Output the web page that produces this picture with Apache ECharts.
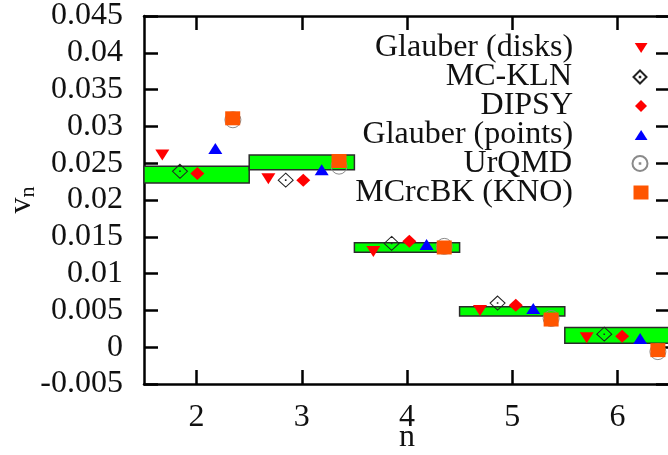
<!DOCTYPE html>
<html>
<head>
<meta charset="utf-8">
<script src="https://cdn.jsdelivr.net/npm/echarts@6/dist/echarts.min.js"></script>
<style>
html,body{margin:0;padding:0;background:#fff;}
#c{width:668px;height:455px;}
</style>
</head>
<body>
<div id="c"></div>
<script>
// ---- data ----
const nValues = [2, 3, 4, 5, 6];
const xTicks = [2, 3, 4, 5, 6];
const yTicks = [-0.005, 0, 0.005, 0.01, 0.015, 0.02, 0.025, 0.03, 0.035, 0.04, 0.045];
const boxLow  = [0.0223, 0.0241, 0.0129, 0.00425, 0.00054];
const boxHigh = [0.0246, 0.0261, 0.0142, 0.00548, 0.00268];

const seriesNames = ['Glauber (disks)', 'MC-KLN', 'DIPSY', 'Glauber (points)', 'UrQMD', 'MCrcBK (KNO)'];

const disksX  = [1.674, 2.682, 3.680, 4.694, 5.708];
const disksY  = [0.0261, 0.0229, 0.0130, 0.0050, 0.0013];
const klnX    = [1.842, 2.847, 3.854, 4.861, 5.875];
const klnY    = [0.0239, 0.0227, 0.0141, 0.0060, 0.00177];
const dipsyX  = [2.007, 3.014, 4.022, 5.034, 6.045];
const dipsyY  = [0.0236, 0.0227, 0.0144, 0.0057, 0.0015];
const pointsX = [2.178, 3.189, 4.186, 5.200, 6.216];
const pointsY = [0.0270, 0.0241, 0.01395, 0.00526, 0.00118];
const urqmdX  = [2.345, 3.354, 4.354, 5.370, 6.385];
const urqmdY  = [0.0309, 0.0246, 0.0137, 0.0039, -0.0006];
const kboX    = [2.343, 3.354, 4.354, 5.370, 6.385];
const kboY    = [0.0311, 0.0253, 0.01355, 0.00376, -0.0004];

// ---- build ----
const FONT = 'Liberation Serif';
const zip = (xs, ys) => xs.map((x, i) => [x, ys[i]]);

const SYM = {
  down:  'path://M0,0L14,0L7,11Z',
  up:    'path://M7,0L14,11L0,11Z',
  diam:  'path://M0,-10L10,0L0,10L-10,0Z',
  odiam: 'path://M0,-10L10,0L0,10L-10,0ZM-0.4,-0.4L0.4,-0.4L0.4,0.4L-0.4,0.4Z',
  ocirc: 'path://M-10,0A10,10,0,1,0,10,0A10,10,0,1,0,-10,0ZM-0.4,-0.4L0.4,-0.4L0.4,0.4L-0.4,0.4Z',
  sq:    'rect'
};

const styles = [
  {sym: SYM.down,  size: [14, 11], item: {color: '#ff0000'}, lw: 13, lh: 10},
  {sym: SYM.odiam, size: [15, 14], item: {color: 'rgba(0,0,0,0)', borderColor: '#222', borderWidth: 1}, lw: 13, lh: 13},
  {sym: SYM.diam,  size: [14, 13], item: {color: '#ff0000'}, lw: 12, lh: 12},
  {sym: SYM.up,    size: [14, 11], item: {color: '#0000ff'}, lw: 13, lh: 10},
  {sym: SYM.ocirc, size: [16, 16], item: {color: 'rgba(0,0,0,0)', borderColor: '#8a8a8a', borderWidth: 1}, lw: 15, lh: 15},
  {sym: SYM.sq,    size: [15, 14], item: {color: '#ff5500'}, lw: 15, lh: 14}
];
const seriesData = [
  zip(disksX, disksY), zip(klnX, klnY), zip(dipsyX, dipsyY),
  zip(pointsX, pointsY), zip(urqmdX, urqmdY), zip(kboX, kboY)
];

const legendCenters = [48, 77, 106, 135, 163.5, 192.5];
const iconCx = 641, textRight = 573;

const legends = seriesNames.map((name, i) => {
  const s = styles[i];
  return {
    data: [name],
    orient: 'vertical',
    align: 'right',
    right: 668 - iconCx - s.lw / 2,
    top: legendCenters[i] - 16,
    padding: 0,
    itemWidth: s.lw,
    itemHeight: s.lh,
    selectedMode: false,
    formatter: n => '{t|' + n + '}',
    textStyle: {
      fontFamily: FONT,
      rich: {
        t: {
          fontFamily: FONT, fontSize: 32, color: '#111', lineHeight: 32,
          padding: [0, (iconCx - s.lw / 2) - textRight - 5, 0, 0]
        }
      }
    }
  };
});

const boxData = nValues.map((n, i) => [n, boxLow[i], boxHigh[i]]);

const series = [{
  type: 'custom',
  name: 'band',
  xAxisIndex: 0, yAxisIndex: 0,
  z: 1,
  data: boxData,
  encode: {x: 0, y: [1, 2]},
  renderItem: function (params, api) {
    const n = api.value(0);
    const p1 = api.coord([n - 0.5, api.value(2)]);
    const p2 = api.coord([n + 0.5, api.value(1)]);
    return {
      type: 'rect',
      shape: {x: p1[0], y: p1[1], width: p2[0] - p1[0], height: p2[1] - p1[1]},
      style: {fill: '#00ff00', stroke: '#2b2b2b', lineWidth: 1.5}
    };
  }
}];
seriesNames.forEach((name, i) => {
  const s = styles[i];
  series.push({
    type: 'scatter',
    name: name,
    xAxisIndex: 0, yAxisIndex: 0,
    z: 2 + i,
    symbol: s.sym,
    symbolSize: s.size,
    symbolKeepAspect: false,
    itemStyle: Object.assign({opacity: 1}, s.item),
    emphasis: {disabled: true},
    data: seriesData[i]
  });
});

const axisLine = {show: true, onZero: false, lineStyle: {color: '#000', width: 2.5}};
const tickStyle = {lineStyle: {color: '#000', width: 2.5}};

const option = {
  animation: false,
  backgroundColor: '#fff',
  textStyle: {fontFamily: FONT},
  grid: {left: 144, top: 16, width: 526, height: 368, containLabel: false, outerBoundsMode: 'none'},
  legend: legends,
  xAxis: [{
    type: 'value', min: 1.5, max: 6.5, position: 'bottom',
    axisLine: axisLine,
    axisTick: Object.assign({show: true, inside: true, length: 14, customValues: xTicks}, tickStyle),
    axisLabel: {customValues: xTicks, margin: 18, fontFamily: FONT, fontSize: 32, color: '#111'},
    splitLine: {show: false},
    name: 'n', nameLocation: 'middle', nameGap: 38, nameMoveOverlap: false,
    nameTextStyle: {fontFamily: FONT, fontSize: 32, color: '#111'}
  }, {
    type: 'value', min: 1.5, max: 6.5, position: 'top',
    axisLine: axisLine,
    axisTick: Object.assign({show: true, inside: true, length: 14, customValues: xTicks}, tickStyle),
    axisLabel: {show: false},
    splitLine: {show: false}
  }],
  yAxis: [{
    type: 'value', min: -0.005, max: 0.045, interval: 0.005, position: 'left',
    axisLine: axisLine,
    axisTick: Object.assign({show: true, inside: true, length: 14}, tickStyle),
    axisLabel: {margin: 21, fontFamily: FONT, fontSize: 32, color: '#111',
      formatter: v => {
        const t = yTicks.find(t => Math.abs(t - v) < 1e-9);
        return String(t !== undefined ? t : v);
      }},
    splitLine: {show: false},
    name: '{v|v}{s|n}', nameLocation: 'middle', nameRotate: 90, nameGap: 106, nameMoveOverlap: false,
    nameTextStyle: {fontFamily: FONT, rich: {
      v: {fontFamily: FONT, fontSize: 32, color: '#111', lineHeight: 32},
      s: {fontFamily: FONT, fontSize: 22, color: '#111', lineHeight: 32, padding: [12, 0, 0, 0]}
    }}
  }, {
    type: 'value', min: -0.005, max: 0.045, interval: 0.005, position: 'right',
    axisLine: axisLine,
    axisTick: Object.assign({show: true, inside: true, length: 14}, tickStyle),
    axisLabel: {show: false},
    splitLine: {show: false}
  }],
  series: series
};

const chart = echarts.init(document.getElementById('c'), null, {renderer: 'canvas'});
chart.setOption(option);
</script>
</body>
</html>
